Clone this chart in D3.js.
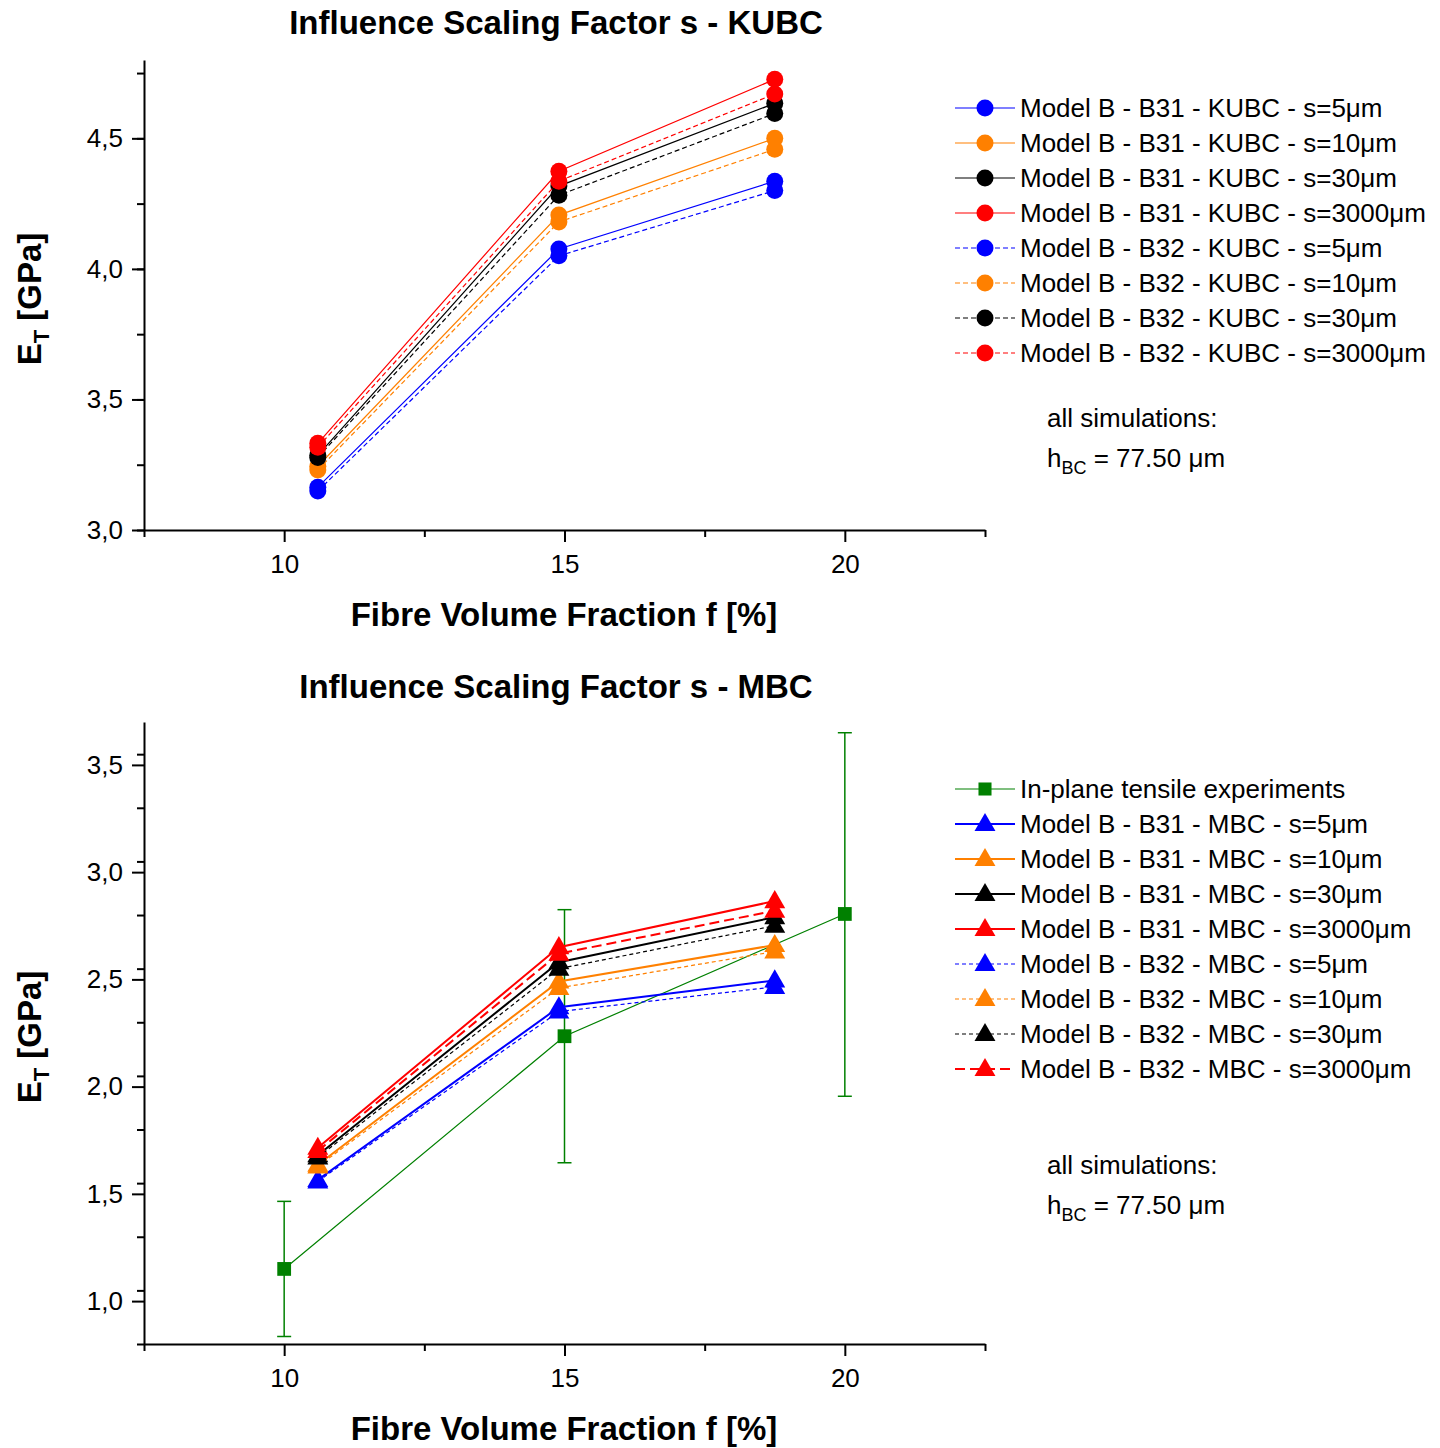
<!DOCTYPE html>
<html>
<head>
<meta charset="utf-8">
<script src="https://cdn.jsdelivr.net/npm/d3@7"></script>
<style>
    body { margin: 0; background: #fff; }
    svg text { font-family: "Liberation Sans", Arial, sans-serif; fill: #000; }
</style>
</head>
<body>
<div class="chart"></div>
<script>
// fibre volume fraction of the simulated models
const fibreFraction = [10.6, 14.9, 18.75];
const scalingSizes = ["5", "10", "30", "3000"];

// KUBC, one row per scaling factor (5, 10, 30, 3000 µm)
const kubcB31 = [
    [3.164, 4.076, 4.336],
    [3.244, 4.206, 4.500],
    [3.286, 4.317, 4.634],
    [3.332, 4.374, 4.726]
];
const kubcB32 = [
    [3.149, 4.050, 4.300],
    [3.230, 4.180, 4.458],
    [3.278, 4.282, 4.595],
    [3.317, 4.336, 4.670]
];

// MBC
const mbcB31 = [
    [1.565, 2.370, 2.495],
    [1.636, 2.490, 2.660],
    [1.680, 2.580, 2.790],
    [1.715, 2.650, 2.865]
];
const mbcB32 = [
    [1.558, 2.350, 2.465],
    [1.628, 2.460, 2.630],
    [1.670, 2.550, 2.750],
    [1.700, 2.620, 2.820]
];

// in-plane tensile experiments
const expFraction = [10, 15, 20];
const expMean = [1.150, 2.235, 2.805];
const expLow = [0.835, 1.645, 1.955];
const expHigh = [1.465, 2.825, 3.650];

const xTicks = [10, 15, 20];
const kubcYTicks = [3.0, 3.5, 4.0, 4.5];
const mbcYTicks = [1.0, 1.5, 2.0, 2.5, 3.0, 3.5];

const colors = ["#0000ff", "#ff8000", "#000000", "#ff0000"];
const green = "#008000";

const svg = d3.select(".chart").append("svg")
    .attr("width", 1440)
    .attr("height", 1448);

const fmtComma = d => d3.format(".1f")(d).replace(".", ",");

function drawPanel(conf) {
    const x = d3.scaleLinear().domain([7.5, 22.5]).range([144, 985]);
    const y = d3.scaleLinear().domain(conf.yDomain).range([conf.bottom, conf.top]);

    const g = svg.append("g");

    // minor ticks
    g.append("g")
        .attr("transform", `translate(0,${conf.bottom})`)
        .call(d3.axisBottom(x).tickValues([7.5, 12.5, 17.5, 22.5]).tickSize(7).tickFormat(""))
        .call(a => a.select(".domain").remove())
        .call(a => a.selectAll("line").attr("stroke-width", 2));
    const minorY = d3.range(conf.yDomain[0], conf.yDomain[1], 0.25).map(v => +v.toFixed(2));
    g.append("g")
        .attr("transform", "translate(144,0)")
        .call(d3.axisLeft(y).tickValues(minorY).tickSize(7).tickFormat(""))
        .call(a => a.select(".domain").remove())
        .call(a => a.selectAll("line").attr("stroke-width", 2));

    // major ticks
    const xAxis = g.append("g")
        .attr("transform", `translate(0,${conf.bottom})`)
        .call(d3.axisBottom(x).tickValues(xTicks).tickSize(12).tickSizeOuter(0).tickPadding(13));
    xAxis.select(".domain").attr("stroke-width", 2);
    xAxis.selectAll("line").attr("stroke-width", 2);
    xAxis.selectAll("text").attr("font-size", 26).attr("fill", "#000");

    const yAxis = g.append("g")
        .attr("transform", "translate(144,0)")
        .call(d3.axisLeft(y).tickValues(conf.yTicks).tickFormat(fmtComma).tickSize(12).tickSizeOuter(0).tickPadding(9));
    yAxis.select(".domain").attr("stroke-width", 2);
    yAxis.selectAll("line").attr("stroke-width", 2);
    yAxis.selectAll("text").attr("font-size", 26).attr("fill", "#000");

    // titles
    g.append("text")
        .attr("x", 556).attr("y", conf.titleY)
        .attr("text-anchor", "middle")
        .attr("font-size", 33).attr("font-weight", "bold")
        .text(conf.title);
    g.append("text")
        .attr("x", 564).attr("y", conf.bottom + 96)
        .attr("text-anchor", "middle")
        .attr("font-size", 33).attr("font-weight", "bold")
        .text("Fibre Volume Fraction f [%]");
    const yt = g.append("text")
        .attr("transform", `translate(41,${(conf.top + conf.bottom) / 2 + 4}) rotate(-90)`)
        .attr("text-anchor", "middle")
        .attr("font-size", 33).attr("font-weight", "bold");
    yt.append("tspan").text("E");
    yt.append("tspan").attr("font-size", 22).attr("dy", 8).text("T");
    yt.append("tspan").attr("dy", -8).text(" [GPa]");

    return { g, x, y };
}

const line = (x, y) => d3.line().x((d, i) => x(fibreFraction[i])).y(d => y(d));

// ---------- top panel: KUBC ----------
const kubcPanel = drawPanel({
    top: 60, bottom: 530, yDomain: [3.0, 4.8], yTicks: kubcYTicks,
    title: "Influence Scaling Factor s - KUBC", titleY: 34
});

function kubcSeries(p, data, dash) {
    data.forEach((vals, k) => {
        p.g.append("path")
            .attr("d", line(p.x, p.y)(vals))
            .attr("fill", "none")
            .attr("stroke", colors[k])
            .attr("stroke-width", 1.2)
            .attr("stroke-dasharray", dash);
        p.g.selectAll(null)
            .data(vals)
            .join("circle")
            .attr("cx", (d, i) => p.x(fibreFraction[i]))
            .attr("cy", d => p.y(d))
            .attr("r", 8.5)
            .attr("fill", colors[k]);
    });
}
kubcSeries(kubcPanel, kubcB31, null);
kubcSeries(kubcPanel, kubcB32, "5,3");

// ---------- bottom panel: MBC ----------
const mbcPanel = drawPanel({
    top: 722, bottom: 1344, yDomain: [0.8, 3.7], yTicks: mbcYTicks,
    title: "Influence Scaling Factor s - MBC", titleY: 698
});

// experiments with error bars
const expLine = d3.line().x((d, i) => mbcPanel.x(expFraction[i])).y(d => mbcPanel.y(d));
mbcPanel.g.append("path")
    .attr("d", expLine(expMean))
    .attr("fill", "none")
    .attr("stroke", green)
    .attr("stroke-width", 1.2);
expFraction.forEach((f, i) => {
    const cx = mbcPanel.x(f);
    mbcPanel.g.append("line")
        .attr("x1", cx).attr("x2", cx)
        .attr("y1", mbcPanel.y(expLow[i])).attr("y2", mbcPanel.y(expHigh[i]))
        .attr("stroke", green).attr("stroke-width", 1.5);
    [expLow[i], expHigh[i]].forEach(v => {
        mbcPanel.g.append("line")
            .attr("x1", cx - 7).attr("x2", cx + 7)
            .attr("y1", mbcPanel.y(v)).attr("y2", mbcPanel.y(v))
            .attr("stroke", green).attr("stroke-width", 1.5);
    });
});
mbcPanel.g.selectAll(null)
    .data(expMean)
    .join("path")
    .attr("d", d3.symbol(d3.symbolSquare, 190))
    .attr("transform", (d, i) => `translate(${mbcPanel.x(expFraction[i])},${mbcPanel.y(d)})`)
    .attr("fill", green);

const triangle = d3.symbol(d3.symbolTriangle, 190);
function mbcSeries(p, data, styleFor) {
    data.forEach((vals, k) => {
        const st = styleFor(k);
        p.g.append("path")
            .attr("d", line(p.x, p.y)(vals))
            .attr("fill", "none")
            .attr("stroke", colors[k])
            .attr("stroke-width", st.width)
            .attr("stroke-dasharray", st.dash);
        p.g.selectAll(null)
            .data(vals)
            .join("path")
            .attr("d", triangle)
            .attr("transform", (d, i) => `translate(${p.x(fibreFraction[i])},${p.y(d) + 1})`)
            .attr("fill", colors[k]);
    });
}
const mbcStyleB31 = () => ({ width: 2, dash: null });
const mbcStyleB32 = k => k === 3 ? { width: 2, dash: "10,5" } : { width: 1.2, dash: "4,3" };
mbcSeries(mbcPanel, mbcB31, mbcStyleB31);
mbcSeries(mbcPanel, mbcB32, mbcStyleB32);

// ---------- legends ----------
function legend(rows, y0) {
    const lg = svg.append("g");
    rows.forEach((r, i) => {
        const yy = y0 + i * 35;
        lg.append("line")
            .attr("x1", 955).attr("x2", 1015)
            .attr("y1", yy).attr("y2", yy)
            .attr("stroke", r.color)
            .attr("stroke-width", r.width)
            .attr("stroke-dasharray", r.dash);
        if (r.shape === "circle") {
            lg.append("circle").attr("cx", 985).attr("cy", yy).attr("r", 8.5).attr("fill", r.color);
        } else {
            lg.append("path")
                .attr("d", d3.symbol(r.shape === "square" ? d3.symbolSquare : d3.symbolTriangle, r.shape === "square" ? 170 : 190))
                .attr("transform", `translate(985,${yy + (r.shape === "square" ? 0 : 1)})`)
                .attr("fill", r.color);
        }
        lg.append("text")
            .attr("x", 1020).attr("y", yy + 9)
            .attr("font-size", 26)
            .text(r.label);
    });
}

const kubcRows = [];
["B31", "B32"].forEach(m => scalingSizes.forEach((s, k) => kubcRows.push({
    label: `Model B - ${m} - KUBC - s=${s}μm`, color: colors[k], shape: "circle",
    width: 1.2, dash: m === "B32" ? "5,3" : null
})));
legend(kubcRows, 108);

const mbcRows = [{ label: "In-plane tensile experiments", color: green, shape: "square", width: 1.2, dash: null }];
["B31", "B32"].forEach(m => scalingSizes.forEach((s, k) => {
    const st = m === "B31" ? mbcStyleB31(k) : mbcStyleB32(k);
    mbcRows.push({
        label: `Model B - ${m} - MBC - s=${s}μm`, color: colors[k], shape: "triangle",
        width: st.width, dash: st.dash
    });
}));
legend(mbcRows, 789);

// notes
function note(y0) {
    svg.append("text").attr("x", 1047).attr("y", y0).attr("font-size", 26).text("all simulations:");
    const t = svg.append("text").attr("x", 1047).attr("y", y0 + 40).attr("font-size", 26);
    t.append("tspan").text("h");
    t.append("tspan").attr("font-size", 18).attr("dy", 7).text("BC");
    t.append("tspan").attr("dy", -7).text(" = 77.50 μm");
}
note(427);
note(1174);
</script>
</body>
</html>
